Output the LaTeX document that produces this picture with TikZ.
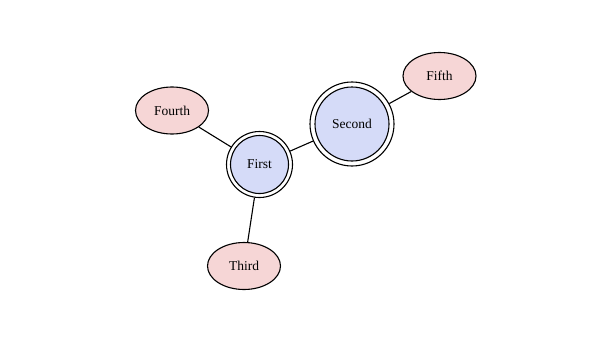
\documentclass[tikz,border=0pt]{standalone}
\usepackage{fontspec}
\setmainfont{Liberation Serif}
\usetikzlibrary{shapes.geometric}
\definecolor{nodeblue}{RGB}{213,219,248}
\definecolor{nodepink}{RGB}{246,214,214}
\begin{document}
\begin{tikzpicture}[x=1pt,y=-1pt,
  lbl/.style={font=\fontsize{13.5}{15}\selectfont},
  ring/.style={circle,draw=black,line width=1.1pt,inner sep=0pt},
  core/.style={circle,draw=black,fill=nodeblue,line width=1.1pt,inner sep=0pt,lbl},
  leaf/.style={ellipse,draw=black,fill=nodepink,line width=1.1pt,inner sep=0pt,minimum width=73pt,minimum height=47pt,lbl},
  edge/.style={draw=black,line width=1.1pt}]
\useasboundingbox (0,0) rectangle (612,345);
\node[ring,minimum size=66pt] (firstouter) at (259.5,164.5) {};
\node[core,minimum size=58pt] (first) at (259.5,164.5) {First};
\node[ring,minimum size=84pt] (secondouter) at (352,124) {};
\node[core,minimum size=74pt] (second) at (352,124) {Second};
\node[leaf] (fourth) at (172,110.5) {Fourth};
\node[leaf] (fifth) at (439.5,76) {Fifth};
\node[leaf] (third) at (244,266) {Third};
\draw[edge] (firstouter) -- (fourth);
\draw[edge] (firstouter) -- (secondouter);
\draw[edge] (firstouter) -- (third);
\draw[edge] (secondouter) -- (fifth);
\end{tikzpicture}
\end{document}
